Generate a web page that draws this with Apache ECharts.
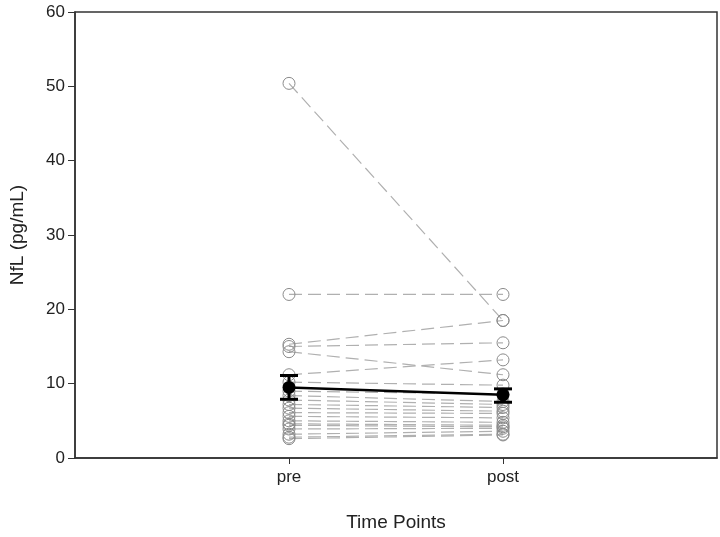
<!DOCTYPE html>
<html>
<head>
<meta charset="utf-8">
<script src="https://cdn.jsdelivr.net/npm/echarts@6/dist/echarts.min.js"></script>
<style>
  html, body { margin: 0; padding: 0; background: #fff; }
  #main { width: 720px; height: 537px; }
</style>
</head>
<body>
<div id="main"></div>
<script>
// time points (x positions 1 and 2 on the axis)
var timePoints = ['pre', 'post']

// individual subjects
var preValues = [50.4, 22.0, 15.3, 15.0, 14.3, 11.2, 10.2, 9.0, 8.4, 7.8, 7.2, 6.7, 6.1, 5.6, 5.0, 4.6, 4.4, 3.9, 3.2, 2.8, 2.6]
var postValues = [18.5, 22.0, 18.5, 15.5, 11.2, 13.2, 9.8, 8.6, 7.6, 7.2, 6.8, 6.3, 6.0, 5.4, 4.8, 4.4, 4.2, 4.0, 3.6, 3.2, 3.1]

// group mean with error bar ends
var meanValues = [9.5, 8.5]
var errLow = [7.9, 7.5]
var errHigh = [11.1, 9.3]

var yTicks = [0, 10, 20, 30, 40, 50, 60]

var chartDom = document.getElementById('main')
var myChart = echarts.init(chartDom)

var series = []

// one dashed line per subject
for (var i = 0; i < preValues.length; i++) {
  series.push({
    type: 'line',
    data: [[1, preValues[i]], [2, postValues[i]]],
    symbol: 'circle',
    symbolSize: 12,
    itemStyle: { color: 'rgba(255,255,255,0)', borderColor: '#8a8a8a', borderWidth: 1 },
    lineStyle: { color: '#b0b0b0', width: 1.2, type: [13, 6] },
    silent: true,
    z: 2,
  })
}

// error bars
series.push({
  type: 'custom',
  data: timePoints.map(function (t, k) {
    return [k + 1, errLow[k], errHigh[k]]
  }),
  renderItem: function (params, api) {
    var lo = api.coord([api.value(0), api.value(1)])
    var hi = api.coord([api.value(0), api.value(2)])
    var w = 9
    var style = { stroke: '#000', lineWidth: 3 }
    return {
      type: 'group',
      children: [
        { type: 'line', shape: { x1: lo[0], y1: lo[1], x2: hi[0], y2: hi[1] }, style: style },
        { type: 'line', shape: { x1: lo[0] - w, y1: lo[1], x2: lo[0] + w, y2: lo[1] }, style: style },
        { type: 'line', shape: { x1: hi[0] - w, y1: hi[1], x2: hi[0] + w, y2: hi[1] }, style: style },
      ],
    }
  },
  z: 5,
})

// mean line
series.push({
  type: 'line',
  data: timePoints.map(function (t, k) {
    return [k + 1, meanValues[k]]
  }),
  symbol: 'circle',
  symbolSize: 13,
  itemStyle: { color: '#000' },
  lineStyle: { color: '#000', width: 2.5 },
  z: 6,
})

var option = {
  animation: false,
  grid: {
    left: 75,
    right: 3,
    top: 12,
    bottom: 75,
    show: true,
    borderColor: '#333',
    borderWidth: 1.5,
  },
  xAxis: {
    type: 'value',
    min: 0,
    max: 3,
    interval: 1,
    name: 'Time Points',
    nameLocation: 'middle',
    nameGap: 55,
    nameTextStyle: { fontSize: 19, color: '#222', fontFamily: 'Liberation Sans' },
    splitLine: { show: false },
    axisLine: { onZero: false, lineStyle: { color: '#333', width: 1.5 } },
    axisTick: { inside: false, length: 6, lineStyle: { color: '#333' }, customValues: [1, 2] },
    axisLabel: {
      customValues: [1, 2],
      margin: 11,
      fontSize: 17,
      color: '#222',
      fontFamily: 'Liberation Sans',
      formatter: function (v) {
        return timePoints[v - 1] || ''
      },
    },
  },
  yAxis: {
    type: 'value',
    min: 0,
    max: 60,
    interval: 10,
    name: 'NfL (pg/mL)',
    nameLocation: 'middle',
    nameGap: 48,
    nameTextStyle: { fontSize: 19, color: '#222', fontFamily: 'Liberation Sans' },
    splitLine: { show: false },
    axisLine: { show: true, lineStyle: { color: '#333', width: 1.5 } },
    axisTick: { show: true, length: 7, lineStyle: { color: '#333' } },
    axisLabel: {
      fontSize: 17,
      color: '#222',
      margin: 10,
      fontFamily: 'Liberation Sans',
      formatter: function (v) {
        return yTicks.indexOf(v) >= 0 ? String(v) : ''
      },
    },
  },
  series: series,
}

option && myChart.setOption(option)
</script>
</body>
</html>
